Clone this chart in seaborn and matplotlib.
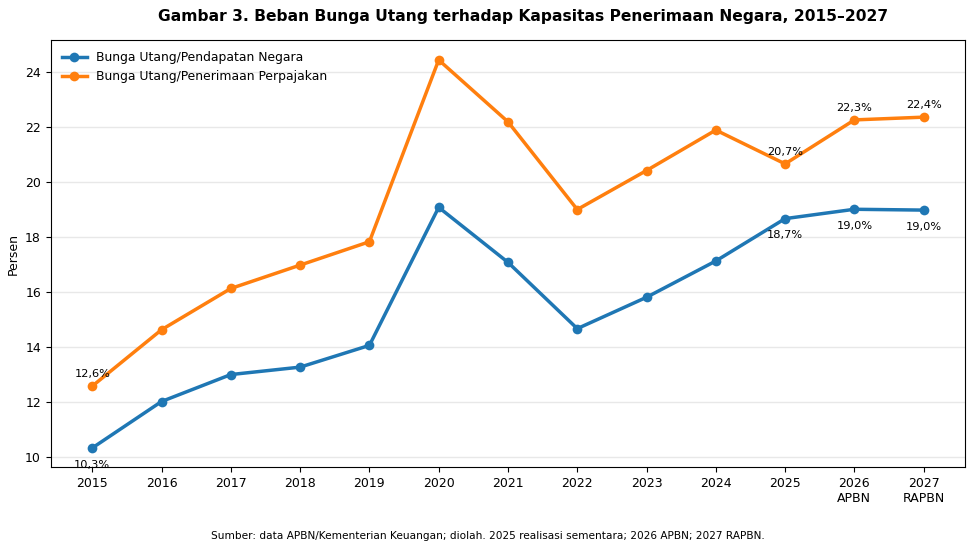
import matplotlib
matplotlib.use("Agg")
import matplotlib.pyplot as plt
import seaborn as sns
import pandas as pd

years = ["2015", "2016", "2017", "2018", "2019", "2020", "2021",
         "2022", "2023", "2024", "2025", "2026", "2027"]
tick_labels = ["2015", "2016", "2017", "2018", "2019", "2020", "2021",
               "2022", "2023", "2024", "2025", "2026\nAPBN", "2027\nRAPBN"]
pendapatan = [10.33, 12.02, 13.0, 13.27, 14.06, 19.08, 17.08,
              14.67, 15.81, 17.13, 18.67, 19.01, 18.98]
perpajakan = [12.58, 14.63, 16.13, 16.98, 17.83, 24.44, 22.19,
              19.0, 20.42, 21.89, 20.66, 22.26, 22.36]
# titik yang diberi label
label_idx = [0, 10, 11, 12]

df = pd.DataFrame({
    "pos": list(range(len(years))) * 2,
    "nilai": pendapatan + perpajakan,
    "seri": ["Bunga Utang/Pendapatan Negara"] * len(years)
            + ["Bunga Utang/Penerimaan Perpajakan"] * len(years),
})

fig, ax = plt.subplots(figsize=(9.75, 5.5), dpi=100)
sns.lineplot(data=df, x="pos", y="nilai", hue="seri", marker="o",
             palette=["#1f77b4", "#ff7f0e"], linewidth=2.5, markersize=7,
             markeredgewidth=0, ax=ax)

ax.set_xticks(range(len(years)))
ax.set_xticklabels(tick_labels)
ax.tick_params(labelsize=9)
ax.set_xlabel("")
ax.set_ylabel("Persen", fontsize=9)
ax.set_ylim(9.64, 25.16)
ax.grid(axis="y", color="#e8e8e8", linewidth=1)
ax.set_axisbelow(True)

def fmt(v):
    return f"{round(v + 1e-9, 1):.1f}%".replace(".", ",")

for i in label_idx:
    ax.annotate(fmt(perpajakan[i]), (i, perpajakan[i]),
                xytext=(0, 5), textcoords="offset points", ha="center",
                va="bottom", fontsize=8.2)
    ax.annotate(fmt(pendapatan[i]), (i, pendapatan[i]),
                xytext=(0, -8.5), textcoords="offset points", ha="center",
                va="top", fontsize=8.2)

ax.legend(loc="upper left", frameon=False, fontsize=8.9)
ax.set_title("Gambar 3. Beban Bunga Utang terhadap Kapasitas Penerimaan Negara, 2015\u20132027",
             fontsize=11.2, fontweight="bold", pad=13.5, x=0.516)
fig.text(0.5, 0.02, "Sumber: data APBN/Kementerian Keuangan; diolah. 2025 realisasi sementara; 2026 APBN; 2027 RAPBN.",
         ha="center", fontsize=7.6)
fig.subplots_adjust(left=0.052, right=0.99, top=0.927, bottom=0.151)
fig.savefig("out.png", dpi=100)
